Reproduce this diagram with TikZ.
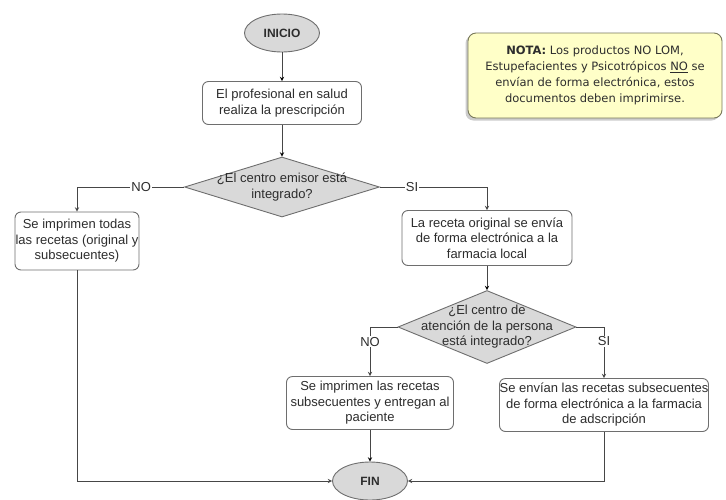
\documentclass[tikz,border=0pt]{standalone}
\usepackage{fontspec}
\setmainfont{Liberation Sans}
\newfontfamily\notafont{DejaVu Sans}
\usetikzlibrary{shapes,shapes.geometric,arrows,shadows,calc,positioning}

\definecolor{linea}{RGB}{70,70,70}
\definecolor{borde}{RGB}{110,110,110}
\definecolor{gris}{RGB}{217,217,217}
\definecolor{texto}{RGB}{45,45,45}
\definecolor{notafill}{RGB}{255,255,200}
\definecolor{notaborde}{RGB}{120,120,90}

\begin{document}
\begin{tikzpicture}[%
    x=1pt, y=1pt,
    >=stealth,
    on grid,
    font=\fontsize{13}{15.5}\selectfont,
    text=texto,
    terminal/.style={ellipse, draw=borde, fill=gris, line width=0.9pt,
      minimum width=75pt, minimum height=38pt, inner sep=0pt,
      font=\fontsize{12}{14}\selectfont\bfseries},
    proceso/.style={rectangle, rounded corners=6pt, draw=borde, fill=white,
      line width=0.9pt, align=center, inner sep=0pt},
    decision/.style={diamond, draw=borde, fill=gris, line width=0.9pt,
      align=center},
    flecha/.style={->, draw=linea, line width=0.9pt},
    etiqueta/.style={fill=white, inner sep=1pt}
  ]
  \useasboundingbox (0,0) rectangle (726,-499);

  \node[terminal] (inicio) at (282,-33) {INICIO};
  \node[proceso, minimum width=159pt, minimum height=43pt] (prescr)
      [below=70pt of inicio] {El profesional en salud\\realiza la prescripción};
  \node[decision, shape aspect=3.25, minimum width=195pt, minimum height=60pt,
      inner sep=-5pt] (dec1) [below=84pt of prescr]
      {¿El centro emisor está\\integrado?};
  \node[proceso, minimum width=124pt, minimum height=58pt] (todas)
      [below left=54pt and 205pt of dec1]
      {Se imprimen todas\\las recetas (original y\\subsecuentes)};
  \node[proceso, minimum width=170pt, minimum height=55pt] (original)
      [below right=51pt and 205pt of dec1]
      {La receta original se envía\\de forma electrónica a la\\farmacia local};
  \node[decision, shape aspect=2.44, minimum width=178pt, minimum height=73pt,
      inner sep=-11pt] (dec2) [below=89pt of original]
      {¿El centro de\\atención de la persona\\está integrado?};
  \node[proceso, minimum width=167pt, minimum height=53pt] (imprimen)
      [below left=76pt and 117pt of dec2]
      {Se imprimen las recetas\\subsecuentes y entregan al\\paciente};
  \node[proceso, minimum width=209pt, minimum height=53pt] (envian)
      [below right=78pt and 117pt of dec2]
      {Se envían las recetas subsecuentes\\de forma electrónica a la farmacia\\de adscripción};
  \node[terminal] (fin) [below=78pt of imprimen] {FIN};

  % nota
  \node[rectangle, rounded corners=8pt, draw=notaborde, fill=notafill,
      line width=0.9pt, minimum width=254pt, minimum height=85pt,
      align=center, inner sep=0pt,
      drop shadow={shadow xshift=-2.5pt, shadow yshift=-2.5pt, fill=gray!80},
      font=\notafont\fontsize{11.5}{16}\selectfont] (nota) at (595,-75.5)
      {\textbf{NOTA:} Los productos NO LOM,\\Estupefacientes y Psicotrópicos \underline{NO} se\\envían de forma electrónica, estos\\documentos deben imprimirse.};

  \path[flecha] (inicio) edge (prescr);
  \path[flecha] (prescr) edge (dec1);
  \draw[flecha] (dec1.west) -| node[etiqueta, pos=0.2] {NO} (todas.north);
  \draw[flecha] (dec1.east) -| node[etiqueta, pos=0.15] {SI} (original.north);
  \path[flecha] (original) edge (dec2);
  \draw[flecha] (dec2.west) -| node[etiqueta, pos=0.65] {NO} (imprimen.north);
  \draw[flecha] (dec2.east) -| node[etiqueta, pos=0.64] {SI} (envian.north);
  \path[flecha] (imprimen) edge (fin);
  \draw[flecha] (todas.south) |- (fin.west);
  \draw[flecha] (envian.south) |- (fin.east);

  \end{tikzpicture}
\end{document}
